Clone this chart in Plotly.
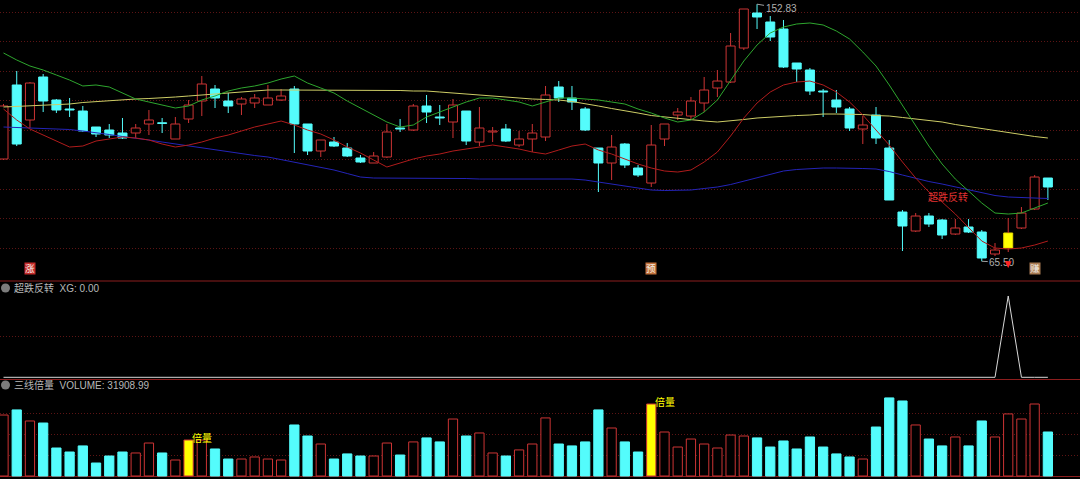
import plotly.graph_objects as go

# ---------------- data ----------------
idx = list(range(80))

open_ = [100.24, 125.38, 113.49, 128.09, 120.28, 117.22, 116.54, 111.11, 110.09, 109.07,
         109.07, 112.13, 112.47, 107.03, 113.83, 119.94, 124.02, 119.94, 118.92, 119.26,
         118.58, 120.28, 124.02, 112.13, 102.96, 106.01, 103.97, 100.58, 98.88, 100.92,
         110.77, 110.09, 118.24, 114.51, 112.81, 116.54, 106.01, 109.41, 110.43, 104.99,
         107.03, 107.71, 124.70, 120.96, 117.22, 103.97, 98.88, 105.33, 97.18, 92.08,
         107.03, 115.18, 114.84, 119.26, 124.36, 126.39, 137.94, 149.83, 146.78, 144.40,
         132.85, 130.47, 123.34, 120.28, 117.22, 110.43, 115.18, 103.97, 82.23, 75.78,
         80.87, 79.52, 74.76, 77.14, 75.44, 67.97, 70.00, 76.80, 83.25, 93.78]
close = [118.24, 105.33, 126.05, 119.94, 116.88, 116.88, 109.75, 108.73, 108.39, 107.37,
         110.77, 113.49, 112.30, 112.13, 118.58, 125.72, 120.96, 118.24, 120.62, 120.96,
         120.96, 121.64, 112.13, 102.96, 106.69, 104.65, 101.26, 99.22, 101.26, 109.41,
         110.43, 118.24, 116.20, 114.17, 118.58, 106.35, 110.77, 109.75, 106.35, 107.03,
         109.07, 121.98, 120.96, 119.60, 110.09, 98.88, 104.31, 98.20, 94.80, 104.99,
         112.13, 116.20, 119.94, 123.68, 126.73, 138.62, 151.19, 148.48, 141.68, 131.49,
         130.81, 123.34, 123.00, 117.90, 110.77, 111.79, 107.37, 86.31, 77.48, 80.87,
         78.16, 74.42, 76.80, 75.44, 66.61, 69.32, 75.10, 81.89, 94.12, 90.73]
high = [118.92, 130.13, 126.39, 129.11, 120.62, 120.96, 118.24, 111.11, 112.13, 114.17,
        112.13, 116.88, 114.17, 114.51, 120.28, 128.43, 125.38, 122.66, 121.30, 122.32,
        125.38, 124.02, 125.04, 112.13, 106.69, 107.71, 105.67, 101.60, 102.62, 112.13,
        113.83, 118.92, 121.98, 118.58, 120.62, 116.54, 117.90, 111.11, 112.13, 109.75,
        112.13, 125.04, 126.73, 125.04, 117.90, 103.97, 108.39, 105.67, 98.20, 111.79,
        112.13, 117.56, 121.30, 128.09, 130.47, 143.04, 151.19, 152.83, 148.81, 147.46,
        132.85, 131.15, 124.02, 123.68, 117.90, 114.84, 117.90, 106.69, 82.91, 81.89,
        81.89, 79.86, 79.86, 79.86, 76.12, 71.70, 80.20, 83.93, 94.80, 93.78]
low = [99.90, 104.65, 110.77, 116.20, 115.86, 114.51, 109.41, 107.71, 107.37, 107.03,
       107.37, 108.39, 109.07, 107.03, 112.47, 114.84, 117.56, 115.86, 115.18, 117.56,
       118.58, 119.94, 102.28, 101.60, 100.92, 104.31, 100.92, 98.88, 98.88, 100.58,
       109.41, 109.75, 112.47, 111.79, 107.37, 104.99, 104.65, 106.01, 106.01, 104.31,
       102.62, 106.35, 119.60, 116.88, 109.75, 89.03, 93.10, 97.18, 94.12, 90.73,
       104.65, 113.49, 113.49, 116.20, 121.30, 126.05, 137.26, 144.40, 140.32, 131.15,
       126.39, 121.98, 114.51, 115.86, 109.75, 105.33, 105.33, 86.31, 68.99, 75.44,
       77.14, 73.06, 74.42, 75.10, 65.50, 67.29, 68.65, 76.46, 82.91, 86.31]

ma_green = [136.25, 133.87, 131.83, 130.47, 128.77, 127.07, 125.04, 125.38, 124.70, 122.66,
            120.62, 119.60, 118.58, 117.56, 118.24, 120.28, 121.64, 123.34, 124.36, 125.04,
            126.05, 127.41, 128.43, 126.05, 124.36, 122.66, 119.94, 117.56, 115.18, 112.81,
            111.11, 111.79, 114.51, 116.20, 117.90, 119.60, 120.96, 120.96, 120.28, 119.60,
            118.24, 119.60, 120.96, 120.96, 120.62, 120.28, 119.60, 118.92, 117.22, 115.86,
            114.17, 112.81, 113.49, 116.20, 120.28, 127.07, 133.53, 138.96, 143.04, 145.08,
            146.10, 146.44, 145.76, 143.72, 141.00, 136.59, 131.83, 125.38, 118.58, 111.45,
            104.65, 98.54, 93.44, 89.37, 85.29, 81.89, 81.55, 81.89, 83.59, 85.29]
ma_red = [117.22, 113.49, 110.43, 108.39, 106.35, 104.31, 104.65, 106.35, 107.03, 107.71,
          107.37, 106.69, 105.33, 104.31, 104.99, 106.01, 107.37, 108.39, 109.75, 111.11,
          112.13, 113.15, 111.79, 110.09, 108.73, 106.69, 104.31, 102.28, 99.90, 97.52,
          98.88, 100.24, 101.26, 101.94, 102.96, 103.63, 104.31, 104.99, 104.31, 103.63,
          102.62, 101.94, 103.29, 104.65, 105.33, 103.29, 101.94, 100.24, 98.54, 97.18,
          96.16, 95.82, 96.50, 99.22, 102.62, 108.05, 114.17, 119.26, 123.00, 125.38,
          126.39, 126.73, 125.38, 123.00, 119.60, 115.18, 110.09, 104.99, 99.22, 93.78,
          89.03, 85.63, 81.55, 77.14, 72.38, 70.00, 69.66, 70.00, 71.02, 72.38]
ma_yellow = [117.90, 118.07, 118.24, 118.41, 118.75, 118.92, 119.43, 119.77, 120.11, 120.45,
             120.62, 120.79, 120.96, 121.30, 121.64, 121.98, 122.32, 122.66, 123.17, 123.34,
             123.68, 123.68, 123.68, 123.68, 123.68, 123.68, 123.68, 123.68, 123.68, 123.51,
             123.51, 123.34, 123.34, 123.00, 122.66, 122.32, 121.98, 121.64, 121.13, 120.79,
             120.62, 120.45, 120.28, 119.77, 119.09, 118.24, 117.39, 116.71, 115.86, 115.01,
             114.51, 114.00, 113.49, 113.15, 112.81, 113.15, 113.66, 114.17, 114.51, 114.68,
             115.01, 115.18, 115.52, 115.52, 115.52, 115.35, 115.01, 114.84, 114.34, 113.83,
             113.32, 112.81, 111.96, 111.28, 110.43, 109.75, 109.24, 108.56, 107.88, 107.37]
ma_blue = [111.11, 110.94, 110.77, 110.67, 110.53, 110.26, 109.75, 109.24, 108.56, 107.88,
           107.37, 106.69, 106.01, 105.33, 104.65, 103.97, 103.29, 102.62, 101.94, 101.43,
           100.92, 100.07, 99.22, 98.37, 97.52, 96.50, 95.31, 94.12, 93.78, 93.78,
           93.78, 93.78, 93.78, 93.61, 93.61, 93.61, 93.44, 93.44, 93.44, 93.44,
           93.44, 93.44, 93.44, 93.44, 93.10, 92.42, 91.57, 90.90, 90.22, 89.71,
           89.54, 89.54, 89.71, 90.22, 90.73, 91.57, 92.76, 93.95, 95.14, 96.16,
           96.67, 97.01, 97.18, 97.18, 97.18, 97.01, 96.84, 95.99, 94.80, 93.61,
           92.59, 91.74, 90.73, 89.71, 88.69, 87.84, 87.33, 87.16, 86.99, 86.82]

volume = [44200, 47900, 39900, 38400, 20300, 17400, 21800, 9400, 14500, 17400,
          16700, 23900, 16700, 11600, 26100, 26100, 19600, 12300, 12300, 13800,
          12300, 11600, 37000, 29000, 23200, 12300, 16000, 14500, 14500, 23900,
          15200, 24700, 27600, 24700, 41300, 29000, 31200, 16700, 14500, 18900,
          23200, 42100, 23200, 21800, 24700, 47900, 34800, 24700, 17400, 52200,
          31900, 21000, 26800, 23200, 20300, 29700, 29000, 27600, 21000, 25400,
          19600, 28300, 21000, 16000, 13800, 12300, 35500, 56600, 54400, 37000,
          26800, 21800, 28300, 21800, 39900, 28300, 45000, 41300, 52200, 31908.99]

xg = [0] * 76 + [1] + [0] * 3          # 超跌反转 signal
signal_idx = [76]                        # yellow candle
double_vol_idx = [14, 49]                # 倍量 bars
bottom_marks = [(2, "涨", "#c42a2a"), (49, "预", "#c2703a"), (78, "赚", "#a87a52")]
high_idx, low_idx = 57, 74

# ---------------- styles ----------------
CYAN = "#54fcfc"
RED = "#cc3434"
YELLOW = "#ffff00"
GRID = "#5c1414"
SEP = "#8c1e1e"
FONT = "Liberation Sans, Noto Sans CJK SC, sans-serif"

up = [c >= o for o, c in zip(open_, close)]
body_base = [min(o, c) for o, c in zip(open_, close)]
body_h = [max(abs(c - o), 0.25) for o, c in zip(open_, close)]
body_top = [b + h for b, h in zip(body_base, body_h)]

body_fill, body_line = [], []
for i in idx:
    if i in signal_idx:
        body_fill.append(YELLOW); body_line.append("#e8d800")
    elif up[i]:
        body_fill.append("#000000"); body_line.append(RED)
    else:
        body_fill.append(CYAN); body_line.append(CYAN)

wx_r, wy_r, wx_c, wy_c = [], [], [], []
for i in idx:
    xs = [i, i, None, i, i, None]
    ys = [low[i], body_base[i], None, body_top[i], high[i], None]
    if up[i]:
        wx_r += xs; wy_r += ys
    else:
        wx_c += xs; wy_c += ys

vol_fill, vol_line = [], []
for i in idx:
    if i in double_vol_idx:
        vol_fill.append(YELLOW); vol_line.append(RED)
    elif up[i]:
        vol_fill.append("#000000"); vol_line.append(RED)
    else:
        vol_fill.append(CYAN); vol_line.append(CYAN)

fig = go.Figure()

fig.add_trace(go.Bar(x=idx, y=body_h, base=body_base, width=0.68,
                     marker=dict(color=body_fill, line=dict(color=body_line, width=1)),
                     xaxis="x", yaxis="y", hoverinfo="skip"))
fig.add_trace(go.Scatter(x=wx_r, y=wy_r, mode="lines", line=dict(color=RED, width=1),
                         xaxis="x", yaxis="y", hoverinfo="skip"))
fig.add_trace(go.Scatter(x=wx_c, y=wy_c, mode="lines", line=dict(color=CYAN, width=1),
                         xaxis="x", yaxis="y", hoverinfo="skip"))

for ser, col in [(ma_blue, "#2424b8"), (ma_yellow, "#cdcd66"),
                 (ma_red, "#b01c1c"), (ma_green, "#2ea62e")]:
    fig.add_trace(go.Scatter(x=idx, y=ser, mode="lines", line=dict(color=col, width=1),
                             xaxis="x", yaxis="y", hoverinfo="skip"))

fig.add_trace(go.Scatter(x=idx, y=xg, mode="lines", line=dict(color="#d8d8d8", width=1),
                         xaxis="x", yaxis="y2", hoverinfo="skip"))

fig.add_trace(go.Bar(x=idx, y=volume, width=0.70,
                     marker=dict(color=vol_fill, line=dict(color=vol_line, width=1)),
                     xaxis="x", yaxis="y3", hoverinfo="skip"))

ann = []
ann.append(dict(x=12 / 1080, y=1 - 288 / 479, xref="paper", yref="paper",
                text=f"超跌反转  XG: {xg[-1]:.2f}", showarrow=False, xanchor="left",
                yanchor="middle", font=dict(size=10, color="#b8b8b8", family=FONT)))
ann.append(dict(x=12 / 1080, y=1 - 385 / 479, xref="paper", yref="paper",
                text=f"三线倍量  VOLUME: {volume[-1]:.2f}", showarrow=False, xanchor="left",
                yanchor="middle", font=dict(size=10, color="#b8b8b8", family=FONT)))
ann.append(dict(x=71.45, y=87.3, xref="x", yref="y", text="超跌反转", showarrow=False,
                font=dict(size=10, color="#e23232", family=FONT)))
ann.append(dict(x=high_idx, y=high[high_idx], xref="x", yref="y", text=f"{high[high_idx]:.2f}",
                showarrow=True, ax=24, ay=4, arrowhead=0, arrowwidth=1, arrowcolor="#a0a0a0",
                font=dict(size=10, color="#b0b0b0", family=FONT)))
ann.append(dict(x=low_idx, y=low[low_idx], xref="x", yref="y", text=f"{low[low_idx]:.2f}",
                showarrow=True, ax=20, ay=1, arrowhead=0, arrowwidth=1, arrowcolor="#a0a0a0",
                font=dict(size=10, color="#b0b0b0", family=FONT)))
for k in signal_idx:
    ann.append(dict(x=k, y=low[k] - 5.4, xref="x", yref="y", text="", showarrow=True,
                    ax=0, ay=-8, arrowhead=2, arrowsize=0.9, arrowwidth=1.5,
                    arrowcolor="#ff2020", standoff=0))
for k in double_vol_idx:
    ann.append(dict(x=k + 0.12, y=volume[k] + 1800, xref="x", yref="y3", text="倍量",
                    showarrow=False, xanchor="left", yanchor="middle",
                    font=dict(size=10, color=YELLOW, family=FONT)))
for k, t, c in bottom_marks:
    ann.append(dict(x=k, y=0.018, xref="x", yref="y domain", text=t, showarrow=False,
                    bgcolor=c, borderpad=0, font=dict(size=9.5, color="#f4f0e8", family=FONT)))

shapes = []
for ypx in (281, 379.5):
    shapes.append(dict(type="line", xref="paper", yref="paper", x0=0, x1=1,
                       y0=1 - ypx / 479, y1=1 - ypx / 479, line=dict(color=SEP, width=1)))
for ypx in (288, 385):
    shapes.append(dict(type="circle", xref="paper", yref="paper",
                       x0=1 / 1080, x1=10 / 1080, y0=1 - (ypx + 4.5) / 479, y1=1 - (ypx - 4.5) / 479,
                       fillcolor="#7c7c7c", line=dict(width=0)))

axis_common = dict(showticklabels=False, ticks="", zeroline=False, showline=False,
                   gridcolor=GRID, griddash="1px,2px", gridwidth=1, fixedrange=True)

fig.update_layout(
    width=1080, height=479, margin=dict(l=0, r=0, t=0, b=0),
    paper_bgcolor="#000000", plot_bgcolor="#000000", showlegend=False,
    barmode="overlay",
    xaxis=dict(domain=[0, 1], range=[-0.265, 81.43], anchor="y3", showgrid=False,
               showticklabels=False, ticks="", zeroline=False, showline=False, fixedrange=True),
    yaxis=dict(domain=[1 - 280 / 479, 1], range=[59.14, 154.25],
               tickvals=[70, 80, 90, 100, 110, 120, 130, 140, 150], anchor="x", **axis_common),
    yaxis2=dict(domain=[1 - 378 / 479, 1 - 282 / 479], range=[-0.0086, 1.172],
                tickvals=[0.5], anchor="x", **axis_common),
    yaxis3=dict(domain=[0, 1 - 380 / 479], range=[-2175, 69600],
                tickvals=[15000, 30000, 45000], anchor="x",
                **{**axis_common, "zeroline": True}, zerolinecolor=SEP, zerolinewidth=1),
    annotations=ann, shapes=shapes,
)

fig.write_html(
    "out.html",
    config={"displayModeBar": False},
    post_script="document.body.style.margin='0';document.body.style.padding='0';"
                "document.body.style.background='#000';document.body.style.overflow='hidden';",
)
